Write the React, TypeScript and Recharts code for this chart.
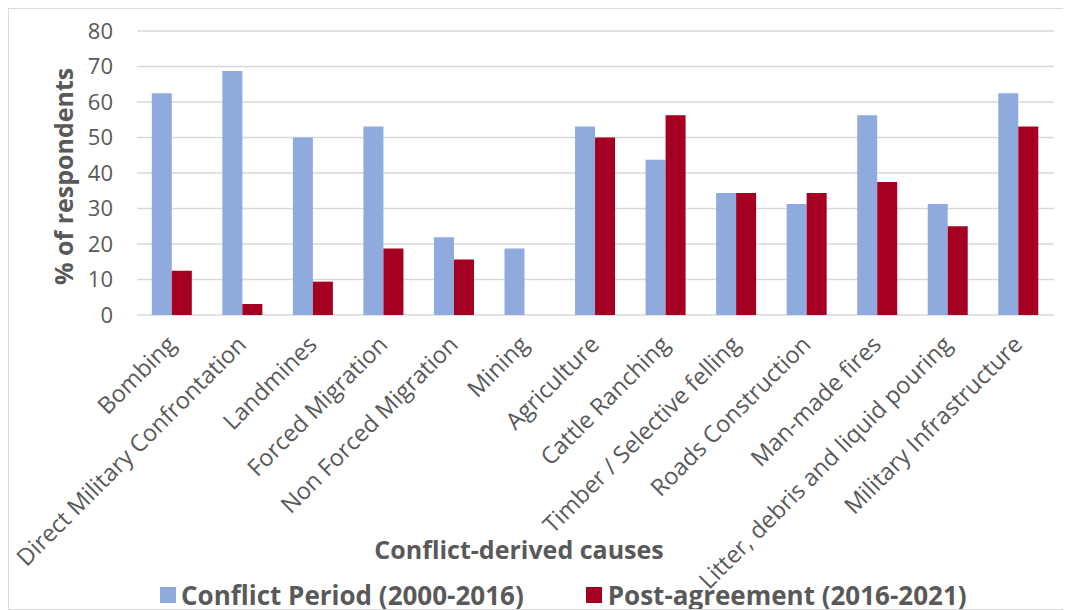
import { BarChart, Bar, XAxis, YAxis, CartesianGrid, Legend } from 'recharts'

const causes = [
  'Bombing',
  'Direct Military Confrontation',
  'Landmines',
  'Forced Migration',
  'Non Forced Migration',
  'Mining',
  'Agriculture',
  'Cattle Ranching',
  'Timber / Selective felling',
  'Roads Construction',
  'Man-made fires',
  'Litter, debris and liquid pouring',
  'Military Infrastructure',
]
const conflictPeriod = [62.5, 68.75, 50, 53.1, 21.9, 18.75, 53.1, 43.75, 34.4, 31.25, 56.25, 31.25, 62.5]
const postAgreement = [12.5, 3.1, 9.4, 18.75, 15.6, 0, 50, 56.25, 34.4, 34.4, 37.5, 25, 53.1]
const yTicks = [0, 10, 20, 30, 40, 50, 60, 70, 80]
const edgeTicks = causes.map((_, i) => i).concat(causes.length)

const data = causes.map((c, i) => ({ cause: c, conflict: conflictPeriod[i], post: postAgreement[i] }))

const FONT = '"Open Sans", sans-serif'
const GREY = '#595959'
const BLUE = '#8FAADC'
const RED = '#A50021'

function CauseTick({ x, y, payload }: any) {
  return (
    <text
      x={x + 5}
      y={y + 23}
      transform={`rotate(-45 ${x + 5} ${y + 23})`}
      textAnchor="end"
      fontSize={23.5}
      fill={GREY}
      fontFamily={FONT}
    >
      {payload.value}
    </text>
  )
}

function BottomLegend() {
  return (
    <div style={{ fontFamily: FONT, color: GREY, fontWeight: 700, position: 'relative', width: 1063, height: 0 }}>
      <div style={{ position: 'absolute', left: 0, width: 1020, top: -2, textAlign: 'center', fontSize: 25, lineHeight: '30px' }}>
        Conflict-derived causes
      </div>
      <div style={{ position: 'absolute', left: 151, top: 46, display: 'flex', alignItems: 'center', fontSize: 26, lineHeight: '26px', whiteSpace: 'nowrap' }}>
        <span style={{ width: 16, height: 16, background: BLUE, display: 'inline-block', marginRight: 5 }} />
        <span>Conflict Period (2000-2016)</span>
        <span style={{ width: 16, height: 16, background: RED, display: 'inline-block', marginLeft: 62, marginRight: 6 }} />
        <span>Post-agreement (2016-2021)</span>
      </div>
    </div>
  )
}

export default function App() {
  return (
    <div style={{ width: 1063, height: 602, border: '1px solid #d9d9d9', boxSizing: 'border-box', position: 'relative', overflow: 'hidden' }}>
      <BarChart
        width={1063}
        height={602}
        data={data}
        barCategoryGap="21%"
        barGap={0}
        margin={{ top: 22, right: 18, bottom: 76, left: 68 }}
      >
        <CartesianGrid vertical={false} stroke="#d9d9d9" strokeWidth={1.5} />
        <XAxis
          xAxisId="edges"
          type="number"
          domain={[0, causes.length]}
          ticks={edgeTicks}
          height={0}
          tick={false}
          tickSize={6}
          axisLine={{ stroke: '#d9d9d9', strokeWidth: 1.5 }}
          tickLine={{ stroke: '#d9d9d9', strokeWidth: 1.5 }}
          allowDataOverflow
        />
        <XAxis
          dataKey="cause"
          interval={0}
          height={220}
          axisLine={false}
          tickLine={false}
          tick={<CauseTick />}
        />
        <YAxis
          domain={[0, 80]}
          ticks={yTicks}
          interval={0}
          width={60}
          axisLine={false}
          tickLine={false}
          tickMargin={18}
          tick={{ fontSize: 22, fill: GREY, fontFamily: FONT }}
          label={{
            value: '% of respondents',
            angle: -90,
            position: 'insideLeft',
            dx: -18,
            dy: 112,
            style: { fontSize: 25, fontWeight: 700, fill: GREY, fontFamily: FONT },
          }}
        />
        <Legend
          verticalAlign="bottom"
          content={<BottomLegend />}
          wrapperStyle={{ top: 527, left: 0, bottom: 'auto', width: 1063, height: 0 }}
        />
        <Bar dataKey="conflict" fill={BLUE} isAnimationActive={false} />
        <Bar dataKey="post" fill={RED} isAnimationActive={false} />
      </BarChart>
    </div>
  )
}
